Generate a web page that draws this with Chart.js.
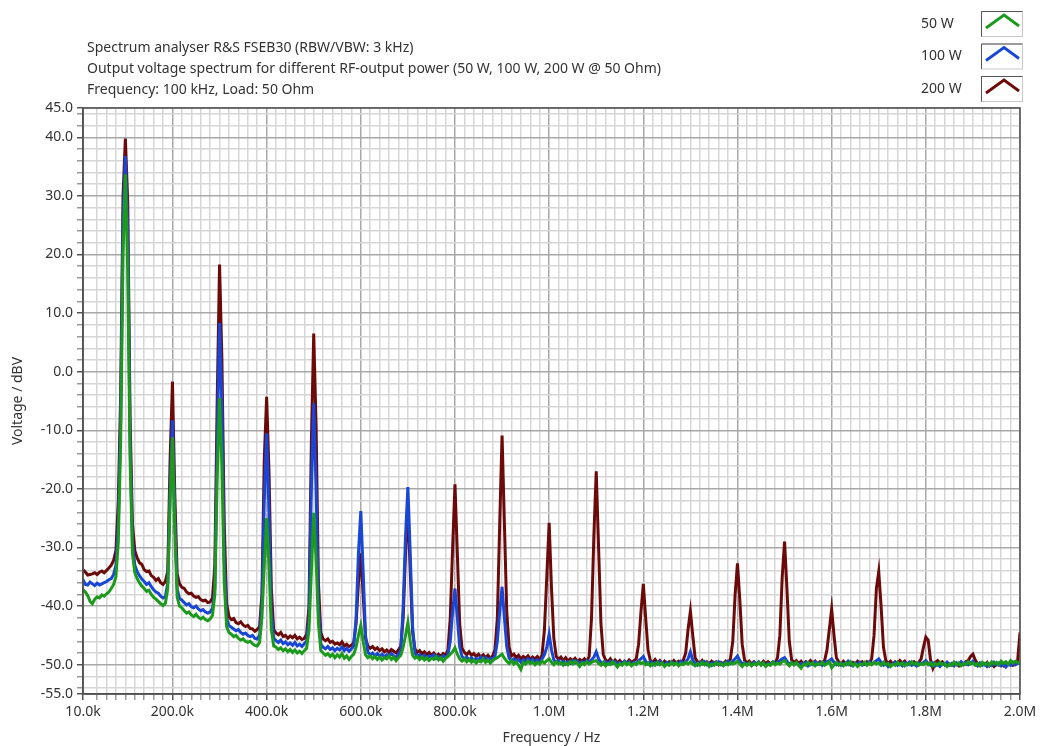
<!DOCTYPE html>
<html>
<head>
<meta charset="utf-8">
<title>Output voltage spectrum</title>
<script src="https://cdn.jsdelivr.net/npm/chart.js@4.4.1/dist/chart.umd.min.js"></script>
<style>
	html, body { margin: 0; padding: 0; background: #fff; }
	#wrap { width: 1040px; height: 746px; }
</style>
</head>
<body>
<div id="wrap"><canvas id="myChart" width="1040" height="746"></canvas></div>
<script>
/* Sweep: 10 kHz .. 2 MHz, one point every 5 kHz */
const sweepStartKHz = 10
const sweepStepKHz = 5

const headerLines = [
	'Spectrum analyser R&S FSEB30 (RBW/VBW: 3 kHz)',
	'Output voltage spectrum for different RF-output power (50 W, 100 W, 200 W @ 50 Ohm)',
	'Frequency: 100 kHz, Load: 50 Ohm',
]

const seriesNames = ['50 W', '100 W', '200 W']

const xMajorKHz = [10, 200, 400, 600, 800, 1000, 1200, 1400, 1600, 1800, 2000]
const xTickLabels = ['10.0k', '200.0k', '400.0k', '600.0k', '800.0k', '1.0M', '1.2M', '1.4M', '1.6M', '1.8M', '2.0M']
const yMajor = [45, 40, 30, 20, 10, 0, -10, -20, -30, -40, -50, -55]
const yTickLabels = ['45.0', '40.0', '30.0', '20.0', '10.0', '0.0', '-10.0', '-20.0', '-30.0', '-40.0', '-50.0', '-55.0']

/* dBV values, rows: 10-95k, then 100k blocks */
const v200W = [
	-33.8, -34.2, -34.7, -34.6, -34.5, -34.3, -34.6, -34.2, -34.0, -34.3, -33.9, -33.5, -33.0, -32.2, -30.5, -22, -4, 30,
	39.8, 29, -8, -26, -30.5, -31.8, -32.6, -32.9, -33.8, -34.1, -34.0, -34.8, -35.1, -35.6, -35.3, -36.0, -36.3, -35.8, -34, -15,
	-1.7, -21, -34.5, -36.2, -36.8, -37.0, -37.6, -37.9, -37.8, -38.3, -38.5, -38.4, -38.9, -39.1, -39.0, -39.4, -39.3, -38.6, -33, -5,
	18.3, 2, -26, -39.5, -41.8, -42.3, -42.1, -42.8, -43.0, -42.7, -43.2, -43.5, -43.3, -43.8, -43.9, -44.3, -44.0, -43.5, -38, -15,
	-4.3, -17, -37, -44, -44.6, -44.9, -44.5, -45.2, -45.0, -45.5, -45.1, -45.4, -45.0, -45.6, -45.3, -45.7, -45.5, -44.8, -40, -12,
	6.5, -9, -36, -44.5, -45.6, -45.9, -45.6, -46.2, -46.0, -46.5, -46.3, -46.6, -46.1, -46.8, -46.5, -46.9, -46.7, -46.2, -43, -36,
	-31, -38, -45.5, -46.8, -47.2, -46.9, -47.4, -47.1, -47.6, -47.3, -47.8, -47.5, -47.9, -47.4, -47.7, -48.0, -47.5, -46.8, -42, -31,
	-23, -34, -44.5, -47.3, -47.9, -47.6, -48.1, -47.8, -48.3, -47.9, -48.4, -48.0, -48.5, -48.2, -48.6, -48.1, -48.4, -47.5, -42, -30,
	-19.2, -31, -43, -47.2, -47.9, -48.3, -47.8, -48.4, -48.1, -48.6, -48.2, -48.7, -48.3, -48.8, -48.4, -48.9, -48.5, -47.4, -42, -26,
	-10.9, -26, -41, -47, -48.5, -48.2, -48.8, -48.4, -49.0, -48.6, -48.9, -48.5, -49.1, -48.7, -49.0, -48.6, -49.2, -48.3, -44, -35,
	-25.8, -37, -45.5, -48.6, -49.1, -48.7, -49.3, -48.8, -49.4, -49.0, -49.3, -48.9, -49.5, -49.1, -49.4, -49.0, -49.5, -48.6, -42, -28,
	-17, -30, -43, -48.3, -49.2, -49.5, -49.0, -49.6, -49.2, -49.7, -49.3, -49.8, -49.4, -49.7, -49.2, -49.6, -49.3, -49.0, -46.5, -41,
	-36.2, -42, -47.5, -49.3, -49.6, -49.1, -49.7, -49.3, -49.8, -49.4, -49.9, -49.5, -49.8, -49.3, -49.7, -49.4, -49.8, -49.2, -48, -44,
	-40.9, -45, -48.8, -49.5, -49.8, -49.3, -49.9, -49.5, -49.9, -49.4, -49.8, -49.5, -50.0, -49.6, -49.9, -49.4, -49.8, -49.0, -46, -38,
	-32.7, -39, -46.5, -49.2, -49.7, -49.4, -49.9, -49.5, -50.0, -49.6, -49.9, -49.4, -49.8, -49.5, -49.9, -49.6, -49.8, -48.8, -45, -35,
	-29, -37, -46, -49.2, -49.6, -49.3, -49.8, -49.4, -49.9, -49.5, -49.8, -49.3, -49.7, -49.4, -49.9, -49.5, -49.8, -49.3, -47.5, -44,
	-40.5, -45, -48.8, -49.5, -49.9, -49.4, -49.8, -49.5, -50.0, -49.6, -49.9, -49.4, -49.8, -49.5, -49.9, -49.5, -49.8, -49.0, -45, -37,
	-34.1, -40, -47, -49.3, -49.8, -49.4, -49.9, -49.5, -49.8, -49.3, -49.7, -49.4, -49.9, -49.6, -49.8, -49.5, -49.9, -49.6, -49.0, -47,
	-45.3, -45.8, -49.2, -50.6, -49.6, -49.3, -49.8, -49.5, -50.0, -49.6, -49.9, -50.1, -49.6, -49.9, -50.2, -49.7, -50.0, -49.5, -49.3, -48.6,
	-48.2, -49.2, -49.8, -50.1, -49.7, -50.0, -49.6, -50.2, -49.8, -50.3, -49.9, -50.1, -49.7, -50.2, -49.8, -50.0, -49.6, -50.1, -49.9, -49.3,
	-44.5,
]

const v100W = [
	-35.5, -36.3, -36.4, -35.9, -36.2, -36.5, -36.1, -36.4, -36.2, -36.0, -35.8, -35.5, -35.3, -34.6, -33, -26, -8, 26,
	36.8, 24, -12, -29, -33.0, -34.1, -34.8, -35.4, -35.8, -36.3, -36.0, -36.7, -37.2, -37.6, -37.8, -38.3, -38.6, -38.4, -36, -20,
	-8.3, -25, -37, -38.7, -39.0, -39.4, -39.8, -39.6, -40.1, -40.3, -40.0, -40.5, -40.8, -40.6, -41.0, -41.2, -41.0, -40.4, -37, -12,
	8.3, -6, -32, -42, -43.3, -43.6, -43.9, -44.2, -44.0, -44.5, -44.8, -44.6, -45.0, -45.2, -45.0, -45.5, -45.6, -45.0, -40, -22,
	-10.5, -24, -41, -45.5, -45.9, -46.2, -45.8, -46.4, -46.1, -46.6, -46.3, -46.7, -46.2, -46.8, -46.5, -46.9, -46.4, -46.0, -42, -20,
	-5.4, -20, -40, -46.5, -47.0, -47.3, -46.9, -47.4, -47.1, -47.6, -47.2, -47.5, -47.0, -47.6, -47.2, -47.7, -47.3, -46.8, -42, -31,
	-23.8, -34, -45, -47.9, -48.3, -48.0, -48.5, -48.1, -48.6, -48.2, -48.7, -48.3, -48.6, -48.1, -48.5, -48.8, -48.2, -47.5, -40, -28,
	-19.7, -31, -43.5, -48.0, -48.6, -48.3, -48.8, -48.4, -48.9, -48.5, -48.7, -48.3, -48.9, -48.6, -49.0, -48.5, -48.8, -48.3, -46, -41,
	-37, -42, -47, -48.6, -49.0, -48.7, -49.2, -48.8, -49.3, -48.9, -49.2, -48.7, -49.1, -48.8, -49.3, -48.9, -49.2, -48.5, -46, -41,
	-36.7, -42, -47, -48.9, -49.3, -49.0, -49.5, -49.1, -49.6, -49.2, -49.5, -49.0, -49.4, -49.1, -49.6, -49.2, -49.5, -49.0, -48.3, -47,
	-44.8, -47.5, -49.2, -49.6, -49.3, -49.8, -49.4, -49.9, -49.5, -49.8, -49.3, -49.7, -49.4, -49.9, -49.5, -49.8, -49.3, -49.6, -49.2, -48.7,
	-47.8, -49.0, -49.6, -49.9, -49.5, -49.9, -49.4, -49.8, -49.5, -50.0, -49.6, -49.9, -49.4, -49.8, -49.5, -50.0, -49.6, -49.8, -49.3, -49.0,
	-48.6, -49.4, -49.9, -49.5, -50.0, -49.6, -49.9, -49.4, -49.8, -50.1, -49.6, -49.9, -49.5, -50.0, -49.6, -49.9, -49.4, -49.8, -49.5, -49.0,
	-47.8, -49.2, -49.8, -50.1, -49.6, -49.9, -49.5, -50.0, -49.7, -50.1, -49.6, -49.9, -49.5, -50.0, -49.7, -49.9, -49.4, -49.8, -49.4, -49.0,
	-48.5, -49.3, -49.9, -49.6, -50.0, -49.7, -50.1, -49.6, -49.9, -49.5, -50.0, -49.7, -50.2, -49.8, -49.9, -49.5, -49.8, -49.6, -49.3, -49.0,
	-48.8, -49.4, -49.9, -49.6, -50.0, -49.7, -50.1, -49.8, -50.0, -49.6, -50.2, -49.8, -50.0, -49.5, -49.9, -49.7, -50.1, -49.6, -49.5, -49.3,
	-49.0, -49.6, -50.0, -49.7, -50.1, -49.8, -50.0, -49.4, -49.9, -50.2, -49.7, -50.0, -49.6, -50.1, -49.8, -50.0, -49.5, -49.9, -49.6, -49.3,
	-49.0, -49.6, -50.1, -49.8, -50.3, -49.9, -50.0, -49.6, -50.1, -49.8, -50.2, -49.7, -50.0, -49.6, -50.1, -49.9, -50.2, -49.7, -49.9, -49.6,
	-49.3, -49.8, -50.1, -49.7, -50.2, -49.9, -50.3, -49.8, -50.0, -49.6, -50.1, -49.8, -50.2, -49.7, -50.0, -49.5, -49.9, -49.6, -50.0, -49.7,
	-49.4, -49.9, -50.2, -49.7, -50.1, -49.8, -50.3, -49.9, -50.1, -49.6, -50.0, -49.7, -50.2, -49.8, -50.4, -49.9, -50.1, -49.6, -50.0, -49.7,
	-49.8,
]

const v50W = [
	-37.2, -37.6, -38.2, -39.2, -39.6, -38.8, -38.4, -38.6, -38.1, -38.3, -37.9, -37.6, -37.0, -36.3, -35, -29, -12, 20,
	33.7, 18, -15, -31, -34.3, -35.3, -36.0, -36.6, -37.0, -37.5, -37.3, -38.0, -38.5, -38.8, -39.2, -39.6, -39.9, -39.5, -37, -22,
	-11.2, -27, -38.5, -40.0, -40.3, -40.8, -41.2, -41.0, -41.5, -41.8, -41.4, -41.9, -42.2, -41.9, -42.3, -42.5, -42.2, -41.6, -38, -18,
	-4.5, -16, -36, -43.5, -44.5, -44.8, -45.2, -45.0, -45.5, -45.8, -45.6, -46.0, -46.2, -46.0, -46.4, -46.7, -46.8, -46.2, -42, -33,
	-25, -33, -44, -46.8, -47.0, -47.4, -47.1, -47.6, -47.3, -47.8, -47.4, -47.9, -47.5, -48.0, -47.7, -48.1, -47.6, -47.2, -44, -34,
	-24.1, -32, -43, -47.6, -48.0, -48.4, -48.1, -48.6, -48.2, -48.8, -48.3, -48.7, -48.1, -48.9, -48.5, -49.1, -48.6, -48.2, -47, -45,
	-43.3, -46, -48.3, -48.8, -48.5, -49.0, -48.6, -49.1, -48.7, -49.2, -48.8, -49.0, -48.5, -49.1, -48.7, -49.3, -48.8, -48.4, -47, -45,
	-42.8, -46, -48.4, -48.9, -48.6, -49.1, -48.7, -49.2, -48.8, -49.3, -48.9, -49.1, -48.6, -49.2, -48.8, -49.4, -48.9, -48.6, -48.2, -47.8,
	-47.1, -48.2, -49.0, -49.4, -49.0, -49.5, -49.1, -49.6, -49.2, -49.7, -49.3, -49.5, -49.0, -49.6, -49.2, -49.7, -49.3, -49.0, -48.8, -48.5,
	-48.2, -48.9, -49.4, -49.8, -49.3, -49.9, -49.5, -50.1, -50.8, -49.6, -49.9, -49.4, -49.8, -49.5, -50.0, -49.6, -49.9, -49.4, -49.7, -49.3,
	-49.0, -49.6, -50.0, -49.5, -49.9, -49.6, -50.1, -49.7, -50.0, -49.5, -49.9, -49.4, -49.8, -50.3, -49.7, -50.0, -49.5, -49.9, -49.6, -49.4,
	-49.3, -49.8, -50.1, -49.6, -50.2, -49.8, -50.0, -49.5, -49.9, -50.4, -49.8, -50.1, -49.6, -50.0, -49.7, -50.2, -49.8, -50.0, -49.5, -49.8,
	-49.6, -50.0, -49.7, -50.2, -49.8, -50.1, -49.6, -50.0, -49.7, -50.3, -49.9, -50.1, -49.6, -50.0, -49.7, -50.2, -49.8, -50.0, -49.6, -49.9,
	-49.5, -49.9, -50.2, -49.8, -50.1, -49.6, -50.0, -49.7, -50.3, -49.9, -50.1, -49.6, -50.0, -49.8, -50.2, -49.7, -50.0, -49.6, -49.9, -49.7,
	-49.4, -49.9, -50.3, -49.8, -50.1, -49.7, -50.2, -49.8, -50.0, -49.6, -50.1, -49.7, -50.3, -49.9, -50.1, -49.6, -50.0, -49.7, -49.9, -49.5,
	-49.3, -49.8, -50.2, -49.7, -50.0, -49.6, -50.1, -50.6, -49.9, -50.1, -49.6, -50.0, -49.7, -50.2, -49.8, -50.0, -49.6, -50.1, -49.8, -49.5,
	-50.5, -50.0, -49.6, -50.1, -49.8, -50.2, -49.7, -50.0, -49.5, -50.1, -49.8, -50.3, -49.9, -50.0, -49.6, -50.1, -49.7, -50.0, -49.6, -49.9,
	-49.7, -50.1, -49.6, -50.0, -49.8, -50.3, -49.9, -50.1, -49.6, -50.0, -49.7, -50.2, -49.8, -50.0, -49.5, -49.9, -49.7, -50.1, -49.8, -50.0,
	-49.6, -50.0, -49.7, -50.2, -49.8, -50.1, -49.6, -50.0, -49.8, -50.3, -49.9, -50.1, -49.6, -50.0, -49.7, -50.2, -49.8, -50.0, -49.5, -49.9,
	-49.7, -50.1, -49.8, -50.2, -49.6, -50.0, -49.7, -50.1, -49.5, -49.9, -49.6, -50.0, -49.4, -49.8, -49.5, -49.9, -49.3, -49.7, -49.4, -49.6,
	-49.9,
]

const colors = ['#1b9a1b', '#1846d6', '#6c0a0a']
const fontFamily = '"Noto Sans", "DejaVu Sans", sans-serif'

/* minor grid: every 20 kHz and every 2 dB */
let xTicks = [...xMajorKHz]
for (let f = 40; f < 2000; f += 20) {
	if (!xMajorKHz.includes(f)) xTicks.push(f)
}
let yTicks = [...yMajor]
for (let v = 44; v > -55; v -= 2) {
	if (!yMajor.includes(v)) yTicks.push(v)
}

function toPoints(values) {
	return values.map((v, i) => ({ x: sweepStartKHz + i * sweepStepKHz, y: v }))
}

const isXMajor = v => xMajorKHz.includes(v)
const isYMajor = v => yMajor.includes(v)

/* Header, legend and plot frame */
const decor = {
	id: 'decor',
	afterDraw(chart) {
		const { ctx, chartArea: a } = chart
		ctx.save()
		ctx.strokeStyle = '#505050'
		ctx.lineWidth = 1.5
		ctx.strokeRect(a.left, a.top, a.right - a.left, a.bottom - a.top)

		ctx.fillStyle = '#333'
		ctx.font = '14px ' + fontFamily
		ctx.textBaseline = 'middle'
		ctx.textAlign = 'left'
		headerLines.forEach((t, i) => ctx.fillText(t, 87, 48 + i * 21))

		seriesNames.forEach((name, i) => {
			const y = 11 + i * 32.5
			ctx.fillStyle = '#333'
			ctx.fillText(name, 921, y + 13)
			ctx.fillStyle = '#fff'
			ctx.fillRect(981, y, 42, 26)
			ctx.strokeStyle = '#c8c8c8'
			ctx.lineWidth = 1
			ctx.strokeRect(981.5, y + 0.5, 41, 25)
			ctx.strokeStyle = '#555'
			ctx.beginPath()
			ctx.moveTo(981.5, y + 25.5)
			ctx.lineTo(981.5, y + 0.5)
			ctx.lineTo(1022.5, y + 0.5)
			ctx.stroke()
			ctx.strokeStyle = colors[i]
			ctx.lineWidth = 2.8
			ctx.beginPath()
			ctx.moveTo(986, y + 17)
			ctx.lineTo(1004, y + 4)
			ctx.lineTo(1019, y + 15)
			ctx.stroke()
		})
		ctx.restore()
	},
}

const chartCanvas = document.getElementById('myChart')

new Chart(chartCanvas, {
	type: 'line',
	data: {
		datasets: [v50W, v100W, v200W].map((vals, i) => ({
			label: seriesNames[i],
			data: toPoints(vals),
			borderColor: colors[i],
			borderWidth: 3,
			pointRadius: 0,
			tension: 0,
			fill: false,
		})),
	},
	options: {
		responsive: false,
		animation: false,
		parsing: false,
		layout: {
			padding: { top: 108, right: 20, left: 0, bottom: 0 },
		},
		plugins: {
			legend: { display: false },
			tooltip: { enabled: false },
		},
		scales: {
			x: {
				type: 'linear',
				min: 10,
				max: 2000,
				afterBuildTicks: scale => {
					scale.ticks = xTicks.map(v => ({ value: v }))
				},
				afterFit: scale => {
					scale.height = 52
					scale.paddingLeft = 0
					scale.paddingRight = 0
				},
				ticks: {
					autoSkip: false,
					maxRotation: 0,
					padding: 4,
					color: '#333',
					font: { family: fontFamily, size: 14 },
					callback: v => (isXMajor(v) ? xTickLabels[xMajorKHz.indexOf(v)] : ''),
				},
				grid: {
					color: c => (c.tick && isXMajor(c.tick.value) ? '#a8a8a8' : '#d6d6d6'),
					tickColor: c => (c.tick && isXMajor(c.tick.value) ? '#555' : '#999'),
					lineWidth: 1.5,
					tickLength: 6,
				},
				border: { color: '#505050', width: 1.5 },
				title: {
					display: true,
					text: 'Frequency / Hz',
					color: '#333',
					font: { family: fontFamily, size: 14 },
					padding: { top: 0, bottom: 0 },
				},
			},
			y: {
				type: 'linear',
				min: -55,
				max: 45,
				afterBuildTicks: scale => {
					scale.ticks = yTicks.map(v => ({ value: v }))
				},
				afterFit: scale => {
					scale.width = 83
					scale.paddingTop = 0
					scale.paddingBottom = 0
				},
				ticks: {
					autoSkip: false,
					padding: 4,
					color: '#333',
					font: { family: fontFamily, size: 14 },
					callback: v => (isYMajor(v) ? yTickLabels[yMajor.indexOf(v)] : ''),
				},
				grid: {
					color: c => (c.tick && isYMajor(c.tick.value) ? '#a8a8a8' : '#d6d6d6'),
					tickColor: c => (c.tick && isYMajor(c.tick.value) ? '#555' : '#999'),
					lineWidth: 1.5,
					tickLength: 6,
				},
				border: { color: '#505050', width: 1.5 },
				title: {
					display: true,
					text: 'Voltage / dBV',
					color: '#333',
					font: { family: fontFamily, size: 14 },
					padding: { top: 10, bottom: 0 },
				},
			},
		},
	},
	plugins: [decor],
})
</script>
</body>
</html>
